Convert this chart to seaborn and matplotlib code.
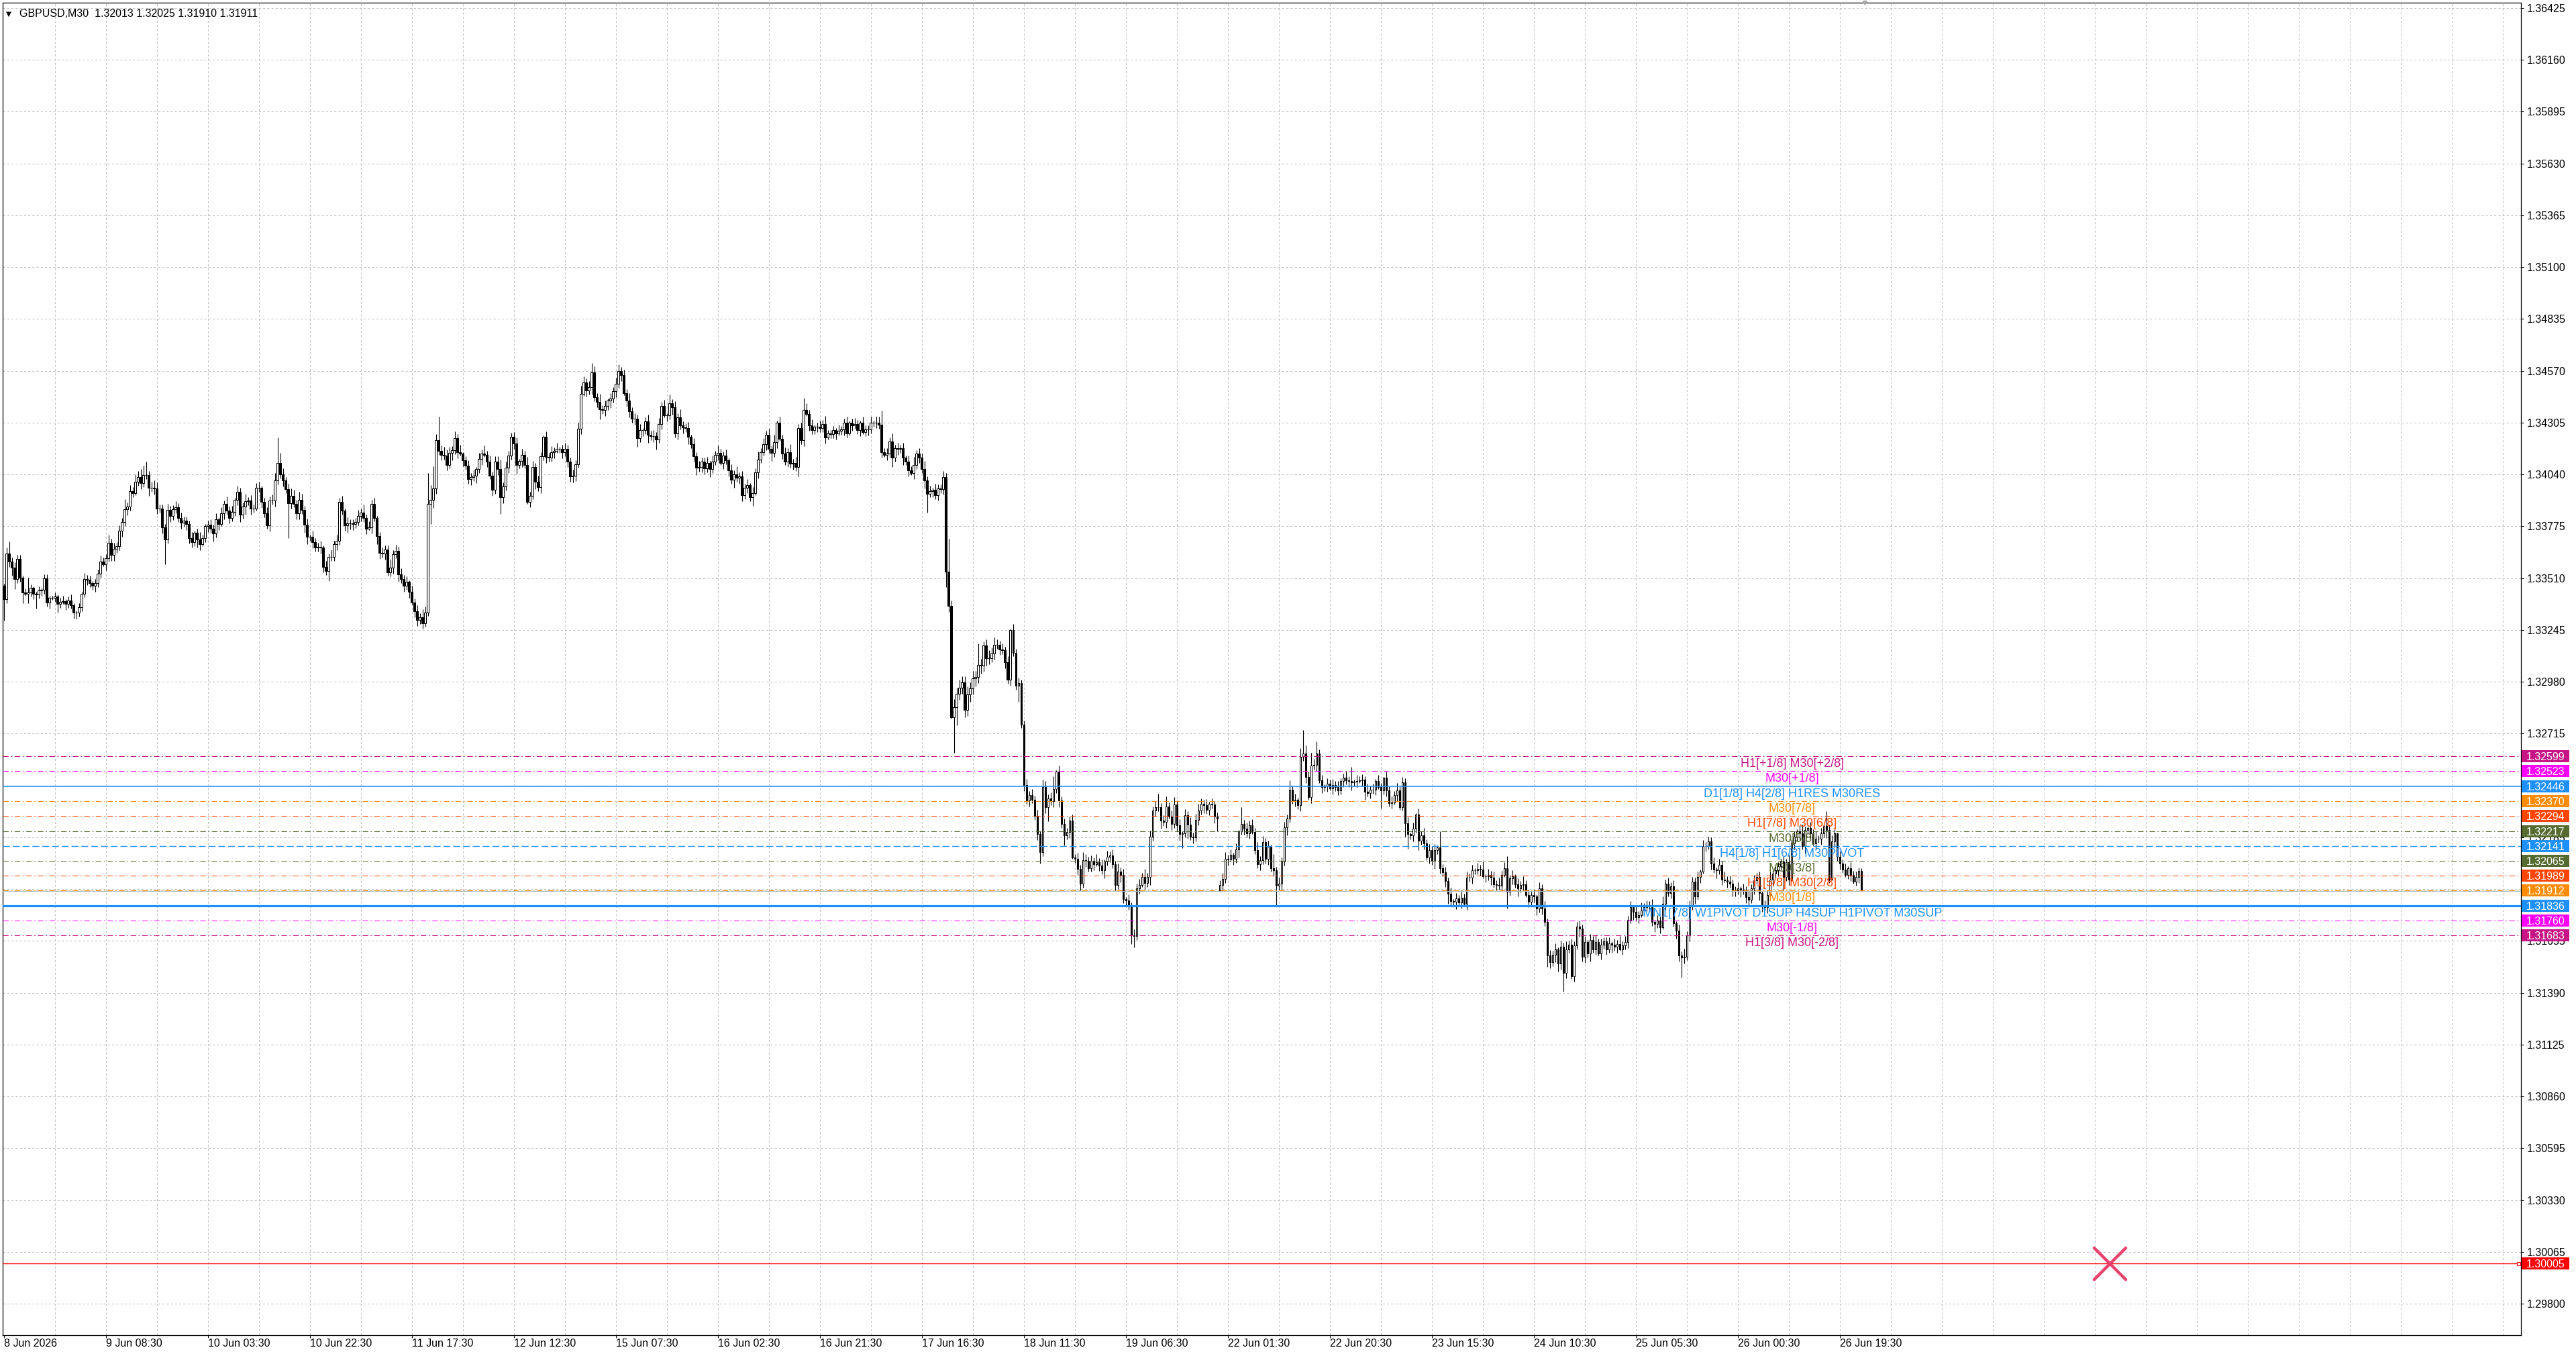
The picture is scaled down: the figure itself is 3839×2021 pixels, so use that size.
import numpy as np
import matplotlib
matplotlib.use("Agg")
import matplotlib.pyplot as plt
import matplotlib.transforms as mtrans
from matplotlib.patches import Rectangle
import seaborn as sns

# GBPUSD M30 closes, in pips above 1.30000, one list per trading day
c_0608 = [340.2, 363.6, 359.6, 356.2, 350.5, 360.8, 351.1, 343.6, 343.1, 343.6, 345.9, 343.1, 342.5, 344.8,
          345.0, 350.8, 338.5, 340.8, 340.8, 341.6, 337.9]
c_0609 = [338.8, 339.1, 337.9, 339.6, 337.3, 333.3, 333.3, 336.2, 343.1, 350.5, 350.3, 348.4, 347.1, 348.4, 353.3, 359.4,
          357.9, 361.3, 369.0, 362.8, 365.9, 367.3, 375.1, 379.6, 386.2, 387.6, 395.4, 394.5, 400.2, 402.8, 399.6, 403.6,
          403.6, 397.1, 397.1, 396.8, 386.7, 386.5, 376.8, 370.7, 385.9, 382.8, 386.1, 387.3, 381.6, 379.3, 380.4, 378.5]
c_0610 = [371.6, 369.3, 374.3, 370.7, 368.2, 371.3, 377.7, 378.2, 376.2, 373.9, 381.1, 378.5, 384.2, 388.8, 385.4, 381.9,
          384.8, 391.1, 395.1, 383.3, 387.6, 390.2, 390.5, 386.5, 386.5, 397.1, 397.1, 389.9, 384.2, 377.9, 390.7, 390.7,
          400.8, 409.9, 404.0, 400.8, 396.4, 389.4, 393.0, 389.1, 384.2, 391.1, 385.9, 378.3, 372.2, 372.2, 369.3, 366.5]
c_0611 = [367.1, 366.7, 356.8, 354.5, 361.7, 361.7, 368.2, 370.1, 390.1, 385.6, 378.1, 379.0, 379.0, 378.7, 379.8, 382.9,
          384.6, 381.6, 376.4, 377.0, 389.0, 381.9, 372.4, 363.8, 363.5, 365.6, 353.9, 356.4, 363.3, 365.0, 353.0, 350.5,
          347.0, 349.0, 344.0, 338.5, 334.0, 329.5, 331.0, 328.0, 333.5, 388.8, 391.0, 397.0, 421.6, 415.9, 414.1, 413.6]
c_0612 = [409.0, 415.1, 416.4, 422.7, 415.3, 414.5, 411.3, 408.4, 401.6, 402.7, 403.5, 406.7, 411.9, 414.7, 414.1, 410.7,
          403.5, 396.2, 410.4, 406.7, 392.4, 397.8, 407.6, 413.6, 423.3, 419.9, 409.0, 410.9, 414.1, 409.0, 390.1, 393.2,
          407.9, 400.4, 397.6, 413.2, 423.1, 413.0, 412.7, 415.3, 415.9, 417.0, 417.2, 415.3, 417.2, 410.7, 402.9, 403.5]
c_0615 = [409.3, 427.5, 445.3, 451.1, 446.9, 448.8, 456.1, 443.5, 441.2, 437.3, 436.8, 438.9, 441.9, 442.7, 446.5, 450.4,
          457.0, 454.7, 445.6, 441.6, 436.2, 432.4, 432.4, 422.4, 426.7, 426.7, 431.3, 424.3, 423.6, 423.6, 422.0, 429.9,
          439.1, 434.1, 434.1, 440.5, 438.4, 425.0, 433.2, 429.0, 428.1, 427.8, 423.4, 419.4, 413.4, 407.5, 407.9, 410.7]
c_0616 = [407.1, 409.9, 406.8, 410.7, 414.1, 414.9, 409.9, 413.8, 411.3, 406.1, 401.2, 404.0, 402.3, 402.9, 393.5, 397.3,
          398.7, 392.4, 394.5, 405.1, 411.7, 415.5, 419.4, 424.3, 416.9, 414.9, 420.4, 430.4, 422.2, 414.8, 410.7, 415.5,
          409.6, 409.9, 407.9, 427.6, 421.5, 437.0, 434.8, 429.2, 426.7, 428.5, 428.5, 427.8, 429.9, 422.9, 424.8, 424.6]
c_0617 = [426.7, 425.0, 426.4, 426.9, 430.4, 425.0, 430.4, 429.2, 429.9, 426.7, 430.6, 425.7, 427.1, 427.1, 430.4, 430.6,
          430.6, 429.5, 415.5, 414.1, 414.5, 420.8, 412.7, 417.3, 416.9, 417.3, 412.7, 410.7, 406.1, 404.7, 408.9, 414.5,
          412.7, 406.8, 400.9, 394.2, 395.3, 396.3, 393.5, 397.0, 396.6, 402.6, 354.2, 336.7, 279.9, 285.1, 291.8, 294.9]
c_0618 = [297.7, 283.7, 291.6, 294.6, 299.6, 300.5, 306.6, 306.1, 316.7, 310.1, 310.1, 312.5, 316.8, 316.8, 314.6, 314.0,
          308.0, 298.9, 324.4, 312.9, 296.0, 297.2, 276.2, 245.2, 237.2, 240.1, 237.8, 229.4, 220.0, 210.8, 244.1, 233.8,
          238.4, 236.9, 243.2, 252.1, 237.2, 225.2, 219.4, 221.2, 227.1, 208.0, 207.4, 202.3, 194.8, 206.8, 206.5, 202.8]
c_0619 = [206.3, 204.6, 205.7, 204.2, 201.5, 206.0, 208.6, 209.1, 204.6, 194.2, 201.1, 199.4, 186.8, 186.2, 183.3, 168.5,
          167.9, 192.5, 194.2, 198.2, 195.0, 198.2, 218.9, 232.1, 233.8, 234.0, 226.9, 226.3, 234.3, 229.2, 225.2, 235.2,
          224.6, 220.2, 220.6, 229.8, 224.8, 218.9, 218.3, 227.5, 232.1, 235.5, 234.9, 232.6, 235.5, 235.1, 229.2, 228.0]
c_0622 = [194.2, 197.1, 207.4, 207.2, 209.4, 207.4, 212.2, 221.7, 225.2, 222.9, 220.6, 224.6, 221.2, 212.0, 204.6, 206.8,
          216.0, 207.4, 213.7, 202.8, 201.5, 193.7, 194.8, 206.0, 223.5, 228.0, 242.7, 237.2, 237.8, 234.9, 259.6, 261.3,
          249.2, 238.9, 255.0, 255.5, 261.3, 247.5, 244.1, 244.7, 245.8, 243.5, 245.2, 244.1, 242.4, 247.3, 248.9, 247.5]
c_0623 = [247.3, 246.6, 247.0, 247.3, 247.5, 247.8, 241.8, 241.2, 242.9, 242.9, 247.3, 244.1, 242.4, 248.9, 242.4, 236.1,
          236.3, 240.1, 242.4, 234.0, 246.6, 225.7, 220.0, 219.4, 222.9, 230.1, 216.6, 219.4, 215.4, 208.0, 212.0, 206.3,
          212.0, 213.4, 202.8, 200.5, 196.0, 189.6, 186.0, 185.6, 187.1, 185.2, 187.7, 184.5, 198.0, 197.8, 201.5, 201.7]
c_0624 = [202.4, 202.0, 198.6, 198.6, 199.2, 198.0, 194.6, 194.0, 193.7, 199.2, 202.6, 190.6, 197.4, 198.6, 194.6, 192.3,
          194.0, 194.6, 188.8, 185.6, 188.8, 188.3, 182.0, 192.3, 182.0, 175.1, 157.9, 154.5, 158.5, 161.3, 153.9, 162.5,
          149.3, 161.3, 163.6, 147.6, 163.1, 172.8, 171.7, 157.3, 164.8, 159.0, 165.9, 161.3, 164.8, 159.0, 163.6, 165.4]
c_0625 = [161.3, 164.2, 163.6, 162.5, 163.9, 161.3, 163.1, 164.9, 176.4, 182.7, 180.4, 177.5, 178.7, 181.2, 182.7, 183.3,
          183.8, 175.2, 174.1, 175.8, 172.4, 184.4, 194.7, 190.1, 193.5, 174.7, 170.7, 158.1, 156.9, 157.5, 168.4, 183.3,
          195.8, 188.4, 198.1, 201.0, 214.1, 214.1, 216.4, 205.0, 202.1, 201.6, 204.4, 197.0, 196.4, 195.8, 194.7, 191.3]
c_0626 = [191.3, 192.4, 191.8, 191.3, 187.8, 186.7, 192.4, 196.4, 198.1, 190.1, 183.3, 182.7, 189.0, 197.0, 199.8, 201.6,
          203.8, 206.1, 198.1, 205.6, 197.0, 215.3, 218.7, 221.6, 220.4, 214.1, 222.1, 223.3, 220.4, 215.3, 217.6, 217.6,
          220.4, 224.4, 222.1, 197.0, 216.4, 220.4, 208.4, 205.0, 202.1, 199.3, 202.7, 199.3, 195.8, 198.1, 201.3, 191.1]

# upper / lower wick length of each bar, pips beyond the body
up_0608 = [1, 3, 6, 2, 3, 2, 2, 1, 2, 7.5, 2, 1, 1, 2, 1, 2, 2, 1, 1, 2, 1]
dn_0608 = [11, 2, 3, 4, 5, 2, 2, 5.5, 1, 5, 2, 3, 7, 2, 3, 2, 2, 3, 1, 2, 4.5]
up_0609 = [2, 3, 1, 2, 3, 1, 1, 2, 1, 3, 2, 2, 1, 2, 2, 3, 2, 2, 4, 2, 3, 2, 3, 2,
           5, 2, 3, 2, 4, 3, 4, 5, 7, 2, 3, 4, 3, 2, 2, 2, 3, 2, 2, 3, 2, 3, 2, 2]
dn_0609 = [2, 1, 3, 2, 2, 3, 3, 2, 2, 2, 3, 2, 2, 3, 2, 2, 1, 3, 2, 3, 3, 2, 2, 3,
           2, 3, 2, 2, 1, 2, 3, 2, 2, 4, 2, 3, 3, 2, 3, 12.8, 2, 3, 2, 2, 2, 3, 2, 3]
up_0610 = [2, 3, 1, 2, 4, 2, 1, 2, 3, 2, 3, 1, 3, 2, 4, 2, 3, 1, 3, 2, 2, 4, 2, 3,
           2, 2.5, 3, 1, 2, 3, 2, 3, 4, 13, 5, 3, 2, 3, 4, 3, 2, 4, 3, 2, 3, 1, 3, 2]
dn_0610 = [3, 2.8, 2, 4, 3, 1, 2, 3, 2, 4, 2, 3, 1, 3, 2, 3, 2, 2, 3, 3.7, 2, 4, 2, 3,
           2, 1, 2, 3, 2, 1.7, 3, 2, 3, 2, 2, 3, 2, 18, 3, 2, 3, 3, 2, 4, 4, 2, 3, 2]
up_0611 = [2, 3, 1, 3, 2, 4, 2, 3, 2, 3, 1, 3, 2, 2, 2, 3, 2, 4, 2, 3, 2, 3, 1, 2,
           3, 2, 2, 4, 2, 3, 2, 3, 2, 3, 1, 3, 2, 3, 2, 4, 3, 16, 7.7, 11, 3, 12, 3, 4]
dn_0611 = [2, 3, 3, 2, 5, 2, 2, 3, 2, 2, 3, 4, 3, 3, 2, 2, 3, 2, 3, 1, 3, 2, 4, 3,
           2, 3, 1.5, 2, 3, 2, 4, 2, 3, 2, 3, 1, 3, 3, 2, 3, 2, 2, 10, 4, 3, 2, 3, 2]
up_0612 = [3, 3, 2, 3.4, 2, 4, 1, 2, 3, 2, 3, 1, 3, 2, 4, 2, 3, 2, 3, 3, 5, 2, 3, 2.3,
           2, 2.3, 3, 1, 3, 2, 4, 2, 3, 2, 3, 2, 1, 3, 2, 3, 2, 3, 1, 2, 3, 2, 2, 3]
dn_0612 = [3, 2, 4, 2, 3, 1, 3, 2, 2.3, 3, 2, 4, 2, 3, 1, 3, 2, 3, 2, 3, 8.6, 3, 2, 3,
           2, 3, 4.6, 2, 3, 2, 1, 3, 2, 4, 2, 3, 2, 3, 2, 2, 3, 1, 2, 3, 2, 3, 2.5, 3]
up_0615 = [2, 3, 4, 3, 2, 3, 5, 3, 2, 4, 2, 3, 1, 3, 2, 3, 3.4, 2, 3, 2, 4, 2, 3, 2,
           3, 1, 2, 3.4, 2, 3, 2, 3, 2, 3, 1, 4.2, 2, 3, 2, 4, 2, 2, 3, 1, 3, 2, 3, 2]
dn_0615 = [3, 2, 3, 1, 3, 2, 4, 2, 3, 5, 2, 3, 2, 4, 2, 3, 2, 3, 1, 3, 3, 2, 3, 4.2,
           2, 3, 2, 4, 2, 3, 5.4, 2, 3, 1, 3, 2, 4, 2, 3, 2, 3, 2, 4, 2, 3, 3.8, 2, 3]
up_0616 = [2, 3, 1, 3, 2, 4, 2, 2, 3, 1, 3, 2, 4, 2, 3, 2, 3, 1, 3, 2, 4, 2, 3, 2,
           3, 2, 4, 1, 3, 2, 3, 2, 4, 2, 3, 2, 3, 6.3, 3.5, 2, 3, 1, 2, 3, 2, 4, 2, 2]
dn_0616 = [3, 2, 4, 2, 2, 3, 1, 3, 2, 3, 2, 4, 2, 3, 3.2, 2, 3, 2, 4.5, 1, 3, 2, 2, 3,
           2, 4, 2, 3, 1, 3, 2, 3, 2, 3, 2, 5, 2, 3, 1, 3, 2, 2, 3, 2, 2, 3, 1, 2]
up_0617 = [2, 1, 3, 2, 2, 3, 1, 2, 3, 2, 1, 3, 2, 2, 3, 1, 3, 3, 7, 2, 3, 2, 4, 2,
           3, 2, 3, 1, 3, 2, 4, 2, 3, 2, 4, 2, 3, 1, 3, 2, 2, 3, 2, 17, 3, 4, 3, 4]
dn_0617 = [2, 3, 1, 2, 3, 2, 1, 3, 2, 2, 3, 1, 2, 3, 2, 2, 3, 2, 3, 1, 3, 2, 5, 2,
           3, 2, 4, 2, 3, 1, 3, 2, 3, 2, 4, 9.8, 2, 3, 2, 3, 2, 3, 7.7, 2.9, 0.7, 18.2, 9.4, 3]
up_0618 = [3, 3, 4, 3, 4, 3, 11, 3, 1.8, 3, 4, 3, 4, 3, 2, 3, 2, 3, 0.8, 3, 2, 3, 2, 2,
           3, 2, 3, 2, 3, 2, 4, 3, 2, 3, 6.6, 0.6, 3, 2, 3, 2, 2, 3, 2, 3, 2, 4, 3, 2]
dn_0618 = [3, 3.8, 3, 4, 3, 4, 3, 4, 3, 4, 3, 2, 3, 2, 3, 2, 3, 2, 3, 2, 2.1, 8.4, 2, 3,
           2, 3, 2, 1.9, 3, 5.7, 2, 3, 7, 2, 3, 2, 3.4, 2, 5, 2, 3, 0.6, 2, 3, 3.4, 2, 3, 2]
up_0619 = [3, 2, 4, 2, 3, 1, 3, 2, 3, 2, 4, 2, 3, 1, 3, 2, 3, 2.3, 3, 2, 4, 2, 3, 2,
           3, 6.6, 2, 3, 5, 2, 3, 3.7, 2, 3, 1, 3, 2, 4, 2, 3, 3.4, 2.9, 2, 3, 1, 3, 2, 2]
dn_0619 = [2, 3, 1, 3, 2, 4, 2, 3, 2, 3, 2, 4, 2, 3, 2, 4.6, 5.8, 2, 3, 1, 3, 2, 4, 2,
           3, 2, 4, 2, 3, 1, 3, 2, 3, 3.6, 7.4, 2, 7.1, 1.7, 3, 2, 3, 2, 4, 2, 3, 2, 3.5, 6.3]
up_0622 = [2.4, 3, 3.5, 2, 3, 1, 3, 0.6, 8.6, 2, 3, 2.3, 3, 2, 4, 2, 3, 2, 3, 1, 7, 2, 3, 2,
           3, 2, 5, 2, 3, 1, 4.5, 12, 4, 3, 6.8, 3, 6.3, 2, 3, 1, 3, 2, 3, 2, 3, 1.4, 2, 3.5]
dn_0622 = [0.6, 2.8, 2, 3, 1, 3, 2, 4, 2, 3, 2, 3, 1, 2.3, 1.8, 3, 2, 2.3, 3, 2, 3, 9.8, 2, 3,
           2, 4, 2, 1.7, 3, 2, 3, 2, 3, 1.1, 3, 2, 3, 1.1, 2.9, 2, 3, 1, 3, 2, 2.3, 2, 3, 2]
up_0623 = [2, 7, 1, 3, 2, 3, 2, 4, 2, 3, 1, 3, 2, 0.4, 3, 2, 3, 2, 4, 2, 2.7, 2, 3, 1,
           3, 0.8, 3, 2, 4, 2, 3, 2, 3, 1, 8.3, 2, 3, 2, 3, 1, 3, 2, 4, 2, 3, 2, 3, 1]
dn_0623 = [3, 4.2, 2, 3, 1, 3, 4, 2, 3, 2, 3, 1, 9.2, 2, 3, 2, 3, 1, 3, 1.4, 2, 6.8, 7.4, 2,
           3, 2, 4.6, 2, 3, 1.2, 3, 2, 4, 2, 3, 2, 3, 5, 3, 2, 4, 2, 3, 1, 3, 2, 3, 2]
up_0624 = [3, 2, 4, 1, 3, 2, 3, 2, 4, 2, 3, 6.3, 2, 3, 1, 3, 2, 4, 2, 3, 2, 3, 1, 3,
           2, 4, 2, 3, 2, 3, 1, 3, 2, 4, 2, 3, 2, 2.3, 3, 2, 3, 1, 3, 2, 4, 2, 3, 2]
dn_0624 = [2, 3, 1, 3, 2, 4, 2, 3, 2, 3, 1, 8.6, 2, 3, 2, 4, 2, 3, 1, 3, 2, 3, 3.5, 2,
           3, 2, 5.7, 3, 2, 4, 4, 3, 9.7, 3, 2, 1.6, 3, 2, 4, 2.3, 3, 2, 4, 2, 3, 1, 3, 2]
up_0625 = [2, 3, 1, 3, 2, 4, 2, 3, 2, 3, 1, 3, 2, 4, 2, 3, 2, 3, 1, 3, 2, 4, 2, 3,
           2, 3, 1, 3, 2, 4, 2, 3, 2.3, 2, 3, 1, 3, 2, 2.5, 2, 3, 1, 3, 2, 4, 2, 3, 2]
dn_0625 = [3, 2, 4, 2, 3, 1, 3, 2, 3, 2, 4, 2, 3, 1, 3, 2, 3, 2, 4, 2, 3, 1, 3, 2,
           3, 2, 4, 3, 10, 3, 2, 3, 2, 4, 2, 3, 1, 3, 2, 3, 2, 4, 2, 3, 1, 3, 2, 3]
up_0626 = [2, 3, 1, 3, 2, 4, 2, 3, 2, 3, 1, 3, 2, 4, 2, 3, 2, 1.2, 3, 2, 4, 2, 3, 1,
           3, 4.6, 2, 1, 3, 2, 4, 2, 3, 0.6, 7.5, 3, 3, 2, 0.6, 3, 2, 3, 1, 3, 2, 3, 1.6, 1.2]
dn_0626 = [3, 2, 4, 2, 3, 3.4, 2, 3, 2, 4, 2.9, 2, 3, 1, 3, 2, 3, 2, 6.8, 2, 3, 1, 3, 2,
           3, 2, 4, 2, 3, 1, 3, 2, 3, 2, 4, 2, 0.5, 3, 2, 3, 2, 1.2, 2, 3, 1, 2, 3, 0.1]

first_open = 347.1          # open of the first bar (8 Jun 13:30)
gap_open = {453: 191.4}     # weekend gap open on 22 Jun 00:00

# time axis labels, every 38 bars
xtick_bars = [0, 38, 76, 114, 152, 190, 228, 266, 304, 342, 380, 418, 456, 494, 532, 570, 608, 646, 684]
xtick_text = ["8 Jun 2026", "9 Jun 08:30", "10 Jun 03:30", "10 Jun 22:30", "11 Jun 17:30", "12 Jun 12:30",
              "15 Jun 07:30", "16 Jun 02:30", "16 Jun 21:30", "17 Jun 16:30", "18 Jun 11:30", "19 Jun 06:30",
              "22 Jun 01:30", "22 Jun 20:30", "23 Jun 15:30", "24 Jun 10:30", "25 Jun 05:30", "26 Jun 00:30",
              "26 Jun 19:30"]
ytick_vals = [1.29800, 1.30065, 1.30330, 1.30595, 1.30860, 1.31125, 1.31390, 1.31655, 1.31920, 1.32185,
              1.32450, 1.32715, 1.32980, 1.33245, 1.33510, 1.33775, 1.34040, 1.34305, 1.34570, 1.34835,
              1.35100, 1.35365, 1.35630, 1.35895, 1.36160, 1.36425]

# Murrey / pivot levels
lvl_price = [1.32599, 1.32523, 1.32446, 1.32370, 1.32294, 1.32217, 1.32141, 1.32065, 1.31989, 1.31912,
             1.31836, 1.31760, 1.31683]
lvl_text = ["H1[+1/8] M30[+2/8]", "M30[+1/8]", "D1[1/8] H4[2/8] H1RES M30RES", "M30[7/8]", "H1[7/8] M30[6/8]",
            "M30[5/8]", "H4[1/8] H1[6/8] M30PIVOT", "M30[3/8]", "H1[5/8] M30[2/8]", "M30[1/8]",
            "MN1[7/8] W1PIVOT D1SUP H4SUP H1PIVOT M30SUP", "M30[-1/8]", "H1[3/8] M30[-2/8]"]
lvl_color = ["#C71585", "#FF00FF", "#1E90FF", "#FF8C00", "#FF4500", "#556B2F", "#1E90FF", "#556B2F",
             "#FF4500", "#FF8C00", "#1E90FF", "#FF00FF", "#C71585"]
DASHDOT = (0, (8, 3.5, 1.6, 3.5))
lvl_style = [DASHDOT, DASHDOT, "-", DASHDOT, DASHDOT, DASHDOT, (0, (7.5, 3)), DASHDOT, DASHDOT, DASHDOT,
             "-", DASHDOT, DASHDOT]
lvl_width = [0.75, 0.75, 1.1, 0.75, 0.75, 0.75, 1.0, 0.75, 0.75, 0.75, 2.3, 0.75, 0.75]
label_bar = 666.3

alert_price = 1.30005
cross_bar = 784.6
bid = 1.31911

# ---- build OHLC ----
closes = c_0608 + c_0609 + c_0610 + c_0611 + c_0612 + c_0615 + c_0616 + c_0617 + c_0618 + c_0619 \
    + c_0622 + c_0623 + c_0624 + c_0625 + c_0626
ups = up_0608 + up_0609 + up_0610 + up_0611 + up_0612 + up_0615 + up_0616 + up_0617 + up_0618 + up_0619 \
    + up_0622 + up_0623 + up_0624 + up_0625 + up_0626
dns = dn_0608 + dn_0609 + dn_0610 + dn_0611 + dn_0612 + dn_0615 + dn_0616 + dn_0617 + dn_0618 + dn_0619 \
    + dn_0622 + dn_0623 + dn_0624 + dn_0625 + dn_0626

close = 1.3 + np.array(closes) / 10000
opn = np.r_[1.3 + first_open / 10000, close[:-1]]
for k, v in gap_open.items():
    opn[k] = 1.3 + v / 10000
high = np.maximum(opn, close) + np.array(ups) / 10000
low = np.minimum(opn, close) - np.array(dns) / 10000
x = np.arange(len(close))

# ---- style ----
sns.set_theme(style="white")
plt.rcParams['font.family'] = ['Liberation Sans', 'DejaVu Sans']
plt.rcParams['axes.unicode_minus'] = False

W, H = 3839, 2021
fig = plt.figure(figsize=(W / 100, H / 100), dpi=100)
fig.patch.set_facecolor("white")
ax = fig.add_axes([4 / W, (H - 1990) / H, 3753 / W, 1986 / H])
ax.set_facecolor("white")

XMIN, XMAX = -0.425, 937.8
YMIN, YMAX = 1.29639, 1.36452

# grid
grid_kw = dict(color="#c0c0c0", lw=0.75, ls=(0, (3, 3)), zorder=0.6)
for gx in range(19, 938, 19):
    ax.axvline(gx, **grid_kw)
for gy in ytick_vals:
    ax.axhline(gy, **grid_kw)

# candles
ax.vlines(x, low, high, color="black", lw=0.8, zorder=3)
bull = close >= opn
body_lo = np.minimum(opn, close)
body_h = np.abs(close - opn)
ax.bar(x[bull], body_h[bull], bottom=body_lo[bull], width=0.62, color="white", edgecolor="black",
       linewidth=0.75, zorder=4)
ax.bar(x[~bull], body_h[~bull], bottom=body_lo[~bull], width=0.62, color="black", edgecolor="black",
       linewidth=0.75, zorder=4)

# level lines and their labels
ax.axhline(bid, color="#b8b8b8", lw=0.75, zorder=4.5)
for p, t, col, ls, lw in zip(lvl_price, lvl_text, lvl_color, lvl_style, lvl_width):
    ax.axhline(p, color=col, lw=lw, ls=ls, zorder=5)
    ax.annotate(t, xy=(label_bar, p), xytext=(0, -3), textcoords="offset pixels", ha="center", va="top",
                fontsize=13, color=col, zorder=7)

# alert line with the cross object
ax.axhline(alert_price, color="red", lw=1.0, zorder=5)
ax.plot([XMAX - 0.9], [alert_price], marker="s", ms=3.6, mfc="white", mec="red", mew=0.8,
        clip_on=False, zorder=9)
sns.scatterplot(x=[cross_bar], y=[alert_price], marker="x", s=1150, color="#e8416c", linewidth=3.2,
                ax=ax, zorder=8, legend=False)
ax.collections[-1].set_capstyle("round")

# chart-shift marker at the top
ax.plot([693.3], [YMAX], marker="v", ms=5, color="#a8a8a8", clip_on=False, zorder=9)

# axes, ticks
ax.set_xlim(XMIN, XMAX)
ax.set_ylim(YMIN, YMAX)
ax.set_xlabel("")
ax.set_ylabel("")
ax.yaxis.tick_right()
ax.set_yticks(ytick_vals)
ax.set_yticklabels(["%.5f" % v for v in ytick_vals])
ax.set_xticks(xtick_bars)
ax.set_xticklabels(xtick_text, ha="left")
ax.tick_params(axis="y", which="both", right=True, left=False, length=2.6, width=0.75, pad=3.4,
               labelsize=11.5, colors="black", direction="out")
ax.tick_params(axis="x", which="both", bottom=True, length=2.9, width=0.75, pad=0.6,
               labelsize=11.5, colors="black", direction="out")
for s in ax.spines.values():
    s.set_visible(True)
    s.set_color("black")
    s.set_linewidth(0.9)

# price tags on the right scale
trans = mtrans.blended_transform_factory(ax.transAxes, ax.transData)
px_per_unit = 1986 / (YMAX - YMIN)
box_h = 18 / px_per_unit
box_w = 71 / 3753
tag_price = lvl_price + [alert_price]
tag_color = lvl_color + ["#FF0000"]
for p, col in zip(tag_price, tag_color):
    ax.add_patch(Rectangle((1.0 + 1 / 3753, p - box_h / 2), box_w, box_h, transform=trans, clip_on=False,
                           facecolor=col, edgecolor="none", zorder=10))
    ax.text(1.0 + 8 / 3753, p, "%.5f" % p, transform=trans, ha="left", va="center_baseline",
            fontsize=11.5, color="white", clip_on=False, zorder=11)

# header
fig.text(9 / W, 1 - 24 / H, "\u25bc", fontsize=7.5, family="DejaVu Sans", color="black", va="baseline")
fig.text(29 / W, 1 - 25 / H, "GBPUSD,M30  1.32013 1.32025 1.31910 1.31911", fontsize=11.5,
         color="black", va="baseline", ha="left")

fig.savefig("out.png", dpi=100, facecolor="white")
